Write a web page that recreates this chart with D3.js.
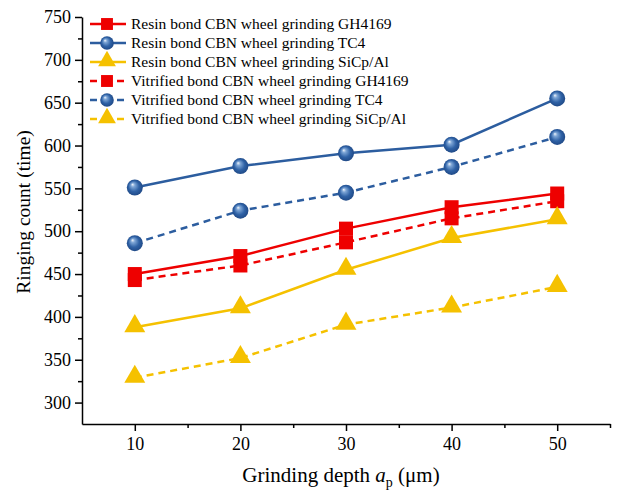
<!DOCTYPE html>
<html>
<head>
<meta charset="utf-8">
<script src="https://cdn.jsdelivr.net/npm/d3@7"></script>
<style>
  body { margin: 0; background: #fff; }
  svg { display: block; }
  text { font-family: "Liberation Serif", "Times New Roman", serif; fill: #000; }
</style>
</head>
<body>
<div id="chart"></div>
<script>
// data
var depth = [10, 20, 30, 40, 50];
var resinGH4169 = [450, 471, 503, 528, 544];
var resinTC4 = [551, 576, 591, 601, 655];
var resinSiCp = [388, 410, 455, 492, 514];
var vitGH4169 = [443, 460, 487, 515, 535];
var vitTC4 = [486, 524, 545, 575, 610];
var vitSiCp = [329, 352, 391, 411, 435];

var seriesNames = [
  "Resin bond CBN wheel grinding GH4169",
  "Resin bond CBN wheel grinding TC4",
  "Resin bond CBN wheel grinding SiCp/Al",
  "Vitrified bond CBN wheel grinding GH4169",
  "Vitrified bond CBN wheel grinding TC4",
  "Vitrified bond CBN wheel grinding SiCp/Al"
];
var yTicks = [300, 350, 400, 450, 500, 550, 600, 650, 700, 750];
var xTicks = [10, 20, 30, 40, 50];

var red = "#ee0000", blue = "#2c5d9f", yellow = "#f5c100";

var series = [
  {name: seriesNames[0], vals: resinGH4169, color: red, shape: "square", dash: null},
  {name: seriesNames[1], vals: resinTC4, color: blue, shape: "ball", dash: null},
  {name: seriesNames[2], vals: resinSiCp, color: yellow, shape: "tri", dash: null},
  {name: seriesNames[3], vals: vitGH4169, color: red, shape: "square", dash: "7,5"},
  {name: seriesNames[4], vals: vitTC4, color: blue, shape: "ball", dash: "7,5"},
  {name: seriesNames[5], vals: vitSiCp, color: yellow, shape: "tri", dash: "7,5"}
];

var W = 632, H = 496;
var m = {left: 82, right: 22, top: 17, bottom: 72};

var svg = d3.select("#chart").append("svg").attr("width", W).attr("height", H);

// shaded ball gradient
var defs = svg.append("defs");
var grad = defs.append("radialGradient").attr("id", "ball")
  .attr("cx", "50%").attr("cy", "50%").attr("r", "55%")
  .attr("fx", "35%").attr("fy", "30%");
grad.append("stop").attr("offset", "0%").attr("stop-color", "#f2f6fc");
grad.append("stop").attr("offset", "22%").attr("stop-color", "#7ea6d6");
grad.append("stop").attr("offset", "60%").attr("stop-color", "#2f62a6");
grad.append("stop").attr("offset", "100%").attr("stop-color", "#1d4581");

var x = d3.scaleLinear().domain([5, 55]).range([m.left, W - m.right]);
var y = d3.scaleLinear().domain([275, 750]).range([H - m.bottom, m.top]);

// axes
var yAxis = svg.append("g").attr("transform", "translate(" + m.left + ",0)")
  .call(d3.axisLeft(y).tickValues(yTicks).tickSize(7).tickPadding(4).tickSizeOuter(0));
var yMinor = svg.append("g").attr("transform", "translate(" + m.left + ",0)")
  .call(d3.axisLeft(y).tickValues(d3.range(325, 750, 50)).tickSize(4).tickFormat("").tickSizeOuter(0));
var xAxis = svg.append("g").attr("transform", "translate(0," + (H - m.bottom) + ")")
  .call(d3.axisBottom(x).tickValues(xTicks).tickSize(7).tickPadding(6).tickSizeOuter(0));
var xMinor = svg.append("g").attr("transform", "translate(0," + (H - m.bottom) + ")")
  .call(d3.axisBottom(x).tickValues([15, 25, 35, 45, 55]).tickSize(4).tickFormat("").tickSizeOuter(0));

[yAxis, yMinor, xAxis, xMinor].forEach(function(g){
  g.selectAll("path").attr("stroke", "#000").attr("stroke-width", 1.5);
  g.selectAll("line").attr("stroke", "#000").attr("stroke-width", 1.5);
  g.selectAll("text").style("font-family", "Liberation Serif").style("font-size", "18px").attr("fill", "#000");
});
yMinor.select("path").remove();
xMinor.select("path").remove();

// axis titles
svg.append("text")
  .attr("transform", "translate(30,212) rotate(-90)")
  .attr("text-anchor", "middle")
  .style("font-size", "19.5px")
  .text("Ringing count (time)");

var xt = svg.append("text")
  .attr("x", 341).attr("y", 482)
  .attr("text-anchor", "middle")
  .style("font-size", "21px");
xt.append("tspan").text("Grinding depth ");
xt.append("tspan").style("font-style", "italic").text("a");
xt.append("tspan").attr("dy", 5).style("font-size", "14px").text("p");
xt.append("tspan").attr("dy", -5).text(" (\u03bcm)");

// markers
function drawMarker(g, shape, color, cx, cy, sc) {
  if (shape === "square") {
    var s = 14 * sc;
    g.append("rect").attr("x", cx - s / 2).attr("y", cy - s / 2)
      .attr("width", s).attr("height", s).attr("fill", color);
  } else if (shape === "tri") {
    g.append("path").attr("transform", "translate(" + cx + "," + (cy - 1) + ")")
      .attr("d", d3.symbol().type(d3.symbolTriangle).size(190 * sc * sc)()).attr("fill", color);
  } else {
    g.append("circle").attr("cx", cx).attr("cy", cy).attr("r", 8 * sc)
      .attr("fill", "url(#ball)");
  }
}

var line = d3.line().x(function(d, i){ return x(depth[i]); }).y(function(d){ return y(d); });

// draw dashed first, solid on top
var order = [3, 4, 5, 0, 1, 2];
order.forEach(function(k){
  var s = series[k];
  svg.append("path").datum(s.vals).attr("d", line)
    .attr("fill", "none").attr("stroke", s.color).attr("stroke-width", 2.5)
    .attr("stroke-dasharray", s.dash);
});
order.forEach(function(k){
  var s = series[k];
  var g = svg.append("g");
  s.vals.forEach(function(v, i){ drawMarker(g, s.shape, s.color, x(depth[i]), y(v), 1); });
});

// legend
var leg = svg.append("g");
series.forEach(function(s, i){
  var ly = 24 + i * 19;
  if (s.dash) {
    // short stubs either side of the marker
    leg.append("line").attr("x1", 90).attr("x2", 97).attr("y1", ly).attr("y2", ly)
      .attr("stroke", s.color).attr("stroke-width", 2.5);
    leg.append("line").attr("x1", 117).attr("x2", 124).attr("y1", ly).attr("y2", ly)
      .attr("stroke", s.color).attr("stroke-width", 2.5);
  } else {
    leg.append("line").attr("x1", 90).attr("x2", 126).attr("y1", ly).attr("y2", ly)
      .attr("stroke", s.color).attr("stroke-width", 2.5);
  }
  drawMarker(leg, s.shape, s.color, 107, ly, 0.85);
  leg.append("text").attr("x", 131).attr("y", ly + 5).style("font-size", "15.5px").text(s.name);
});
</script>
</body>
</html>
